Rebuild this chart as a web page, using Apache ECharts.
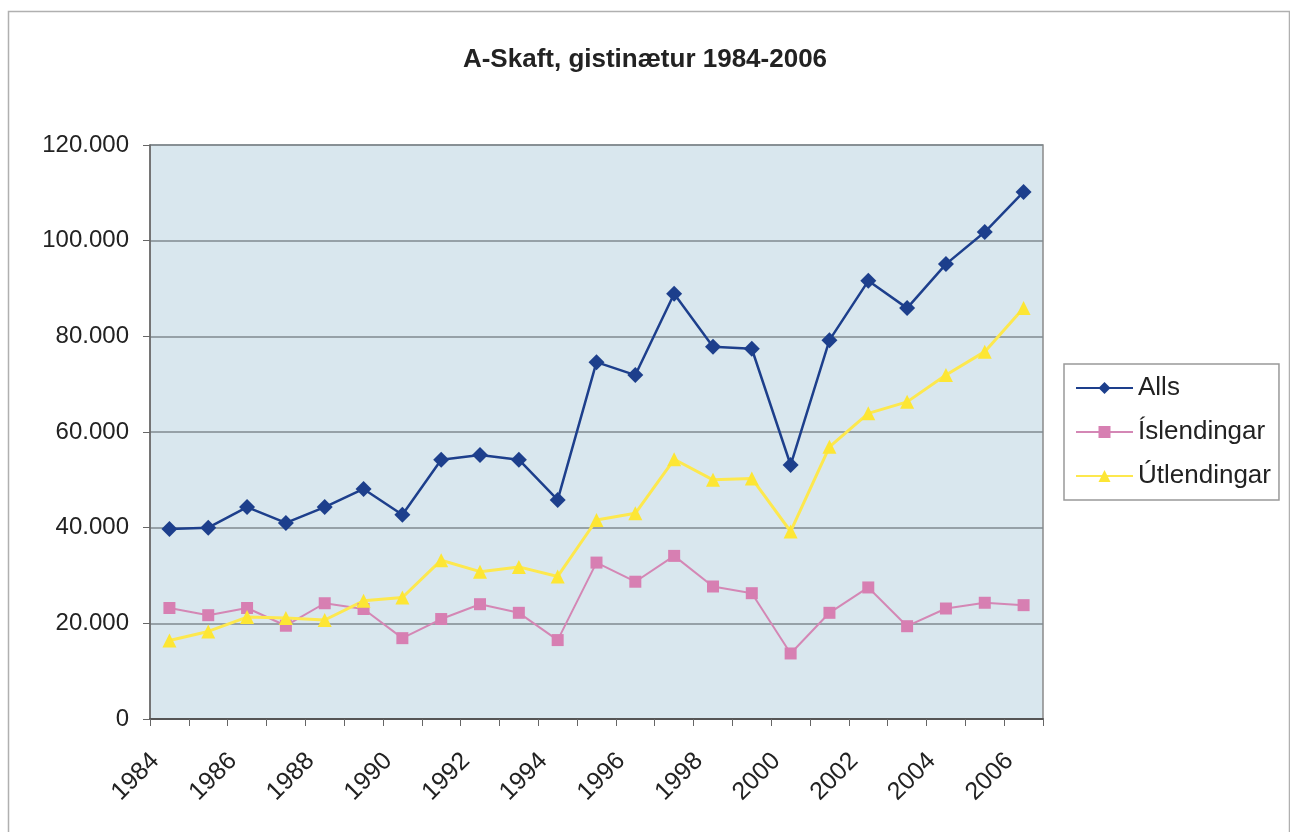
<!DOCTYPE html>
<html>
<head>
<meta charset="utf-8">
<script src="https://cdn.jsdelivr.net/npm/echarts@6/dist/echarts.min.js"></script>
<style>
html,body{margin:0;padding:0;background:#fff;}
#c{width:1290px;height:832px;}
</style>
</head>
<body>
<div id="c"></div>
<script>
const years = ['1984','1985','1986','1987','1988','1989','1990','1991','1992','1993','1994','1995','1996','1997','1998','1999','2000','2001','2002','2003','2004','2005','2006'];
const alls = [39700, 40000, 44300, 41000, 44300, 48100, 42700, 54200, 55200, 54200, 45800, 74600, 71900, 88900, 77800, 77400, 53100, 79200, 91600, 85900, 95100, 101800, 110200];
const islendingar = [23200, 21700, 23200, 19500, 24200, 23000, 16900, 20900, 24000, 22200, 16500, 32700, 28700, 34100, 27700, 26300, 13700, 22200, 27500, 19400, 23100, 24300, 23800];
const utlendingar = [16400, 18300, 21300, 21100, 20700, 24700, 25400, 33200, 30800, 31800, 29800, 41600, 43000, 54300, 50000, 50300, 39200, 56900, 63900, 66300, 71900, 76800, 85900];
const yTicks = [0, 20000, 40000, 60000, 80000, 100000, 120000];

const chart = echarts.init(document.getElementById('c'));
const font = 'Liberation Sans, Arial, sans-serif';
chart.setOption({
  backgroundColor: '#ffffff',
  animation: false,
  graphic: [{
    type: 'rect', left: 6, top: 9,
    shape: { width: 1281, height: 830 },
    style: { fill: 'none', stroke: '#b0b0b0', lineWidth: 1.5 },
    silent: true
  }],
  title: {
    text: 'A-Skaft, gistinætur 1984-2006',
    left: 'center', top: 42,
    textStyle: { fontFamily: font, fontWeight: 'bold', fontSize: 26, color: '#222' }
  },
  legend: {
    orient: 'vertical',
    left: 1064, top: 364,
    width: 216,
    padding: [9, 8, 9, 11],
    itemGap: 14,
    itemWidth: 57, itemHeight: 15,
    borderColor: '#999', borderWidth: 1.5,
    backgroundColor: '#ffffff',
    textStyle: { fontFamily: font, fontSize: 26, color: '#222', lineHeight: 30 },
    data: ['Alls', 'Íslendingar', 'Útlendingar']
  },
  grid: {
    left: 150, right: 247, top: 145, bottom: 113,
    show: true, backgroundColor: '#d9e7ee', borderColor: '#8a8a8a', borderWidth: 1.5
  },
  xAxis: {
    type: 'category',
    data: years,
    boundaryGap: true,
    axisLine: { show: true, lineStyle: { color: '#555', width: 2 } },
    axisTick: { show: true, interval: 0, length: 7, lineStyle: { color: '#666' } },
    axisLabel: { interval: 1, rotate: 45, margin: 24, padding: [0, 20, 0, 0], fontFamily: font, fontSize: 25, color: '#222' },
    splitLine: { show: false }
  },
  yAxis: {
    type: 'value',
    min: yTicks[0], max: yTicks[yTicks.length - 1], interval: 20000,
    axisLine: { show: true, lineStyle: { color: '#666', width: 1.5 } },
    axisTick: { show: true, length: 7, lineStyle: { color: '#666' } },
    axisLabel: {
      margin: 21, fontFamily: font, fontSize: 24, color: '#222',
      formatter: v => v === 0 ? '0' : String(v).replace(/\B(?=(\d{3})+(?!\d))/g, '.')
    },
    splitLine: { show: true, lineStyle: { color: '#7f8a8f', width: 1.5 } }
  },
  series: [
    {
      name: 'Alls', type: 'line', data: alls,
      symbol: 'diamond', symbolSize: 16,
      lineStyle: { color: '#1d3f8c', width: 2.5 },
      itemStyle: { color: '#1d3f8c' }
    },
    {
      name: 'Íslendingar', type: 'line', data: islendingar,
      symbol: 'rect', symbolSize: 12,
      lineStyle: { color: '#d487b5', width: 2 },
      itemStyle: { color: '#d77fb2' }
    },
    {
      name: 'Útlendingar', type: 'line', data: utlendingar,
      symbol: 'triangle', symbolSize: 14,
      lineStyle: { color: '#fde84e', width: 3 },
      itemStyle: { color: '#fde634' }
    }
  ]
});
</script>
</body>
</html>
